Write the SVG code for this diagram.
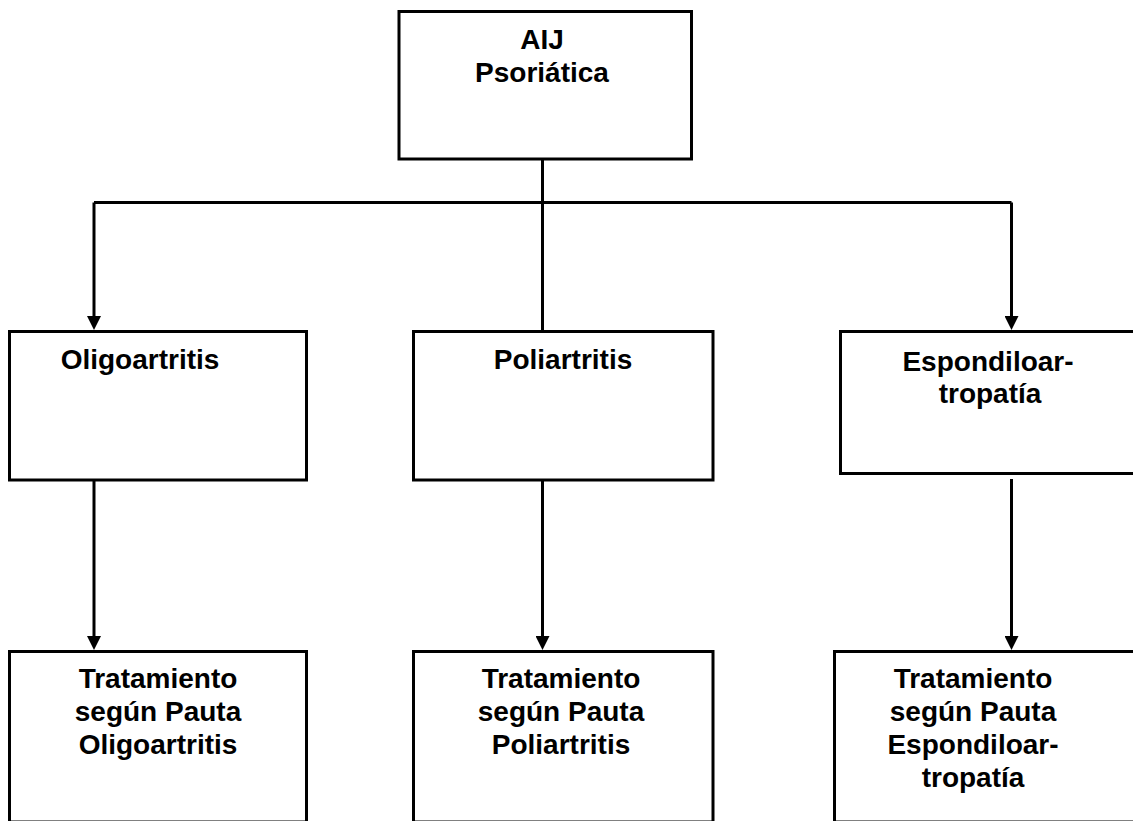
<svg xmlns="http://www.w3.org/2000/svg" width="1133" height="821" viewBox="0 0 1133 821">
<style>
.box{fill:#fff;stroke:#000;stroke-width:3}
.lbl{font-family:"Liberation Sans",Arial,sans-serif;font-weight:bold;font-size:28px;fill:#000;text-anchor:middle}
.con{fill:none;stroke:#000;stroke-width:3}
</style>
<defs>
<marker id="arr" markerUnits="userSpaceOnUse" viewBox="0 0 14 14" markerWidth="14" markerHeight="14" refX="6" refY="7" orient="auto">
<path d="M0,0 L14,7 L0,14 z" fill="#000"/>
</marker>
</defs>
<rect width="1133" height="821" fill="#fff"/>
<g id="connectors">
<path class="con" d="M542.5,159 V331.5"/>
<path class="con" d="M94,202.5 H1011.5"/>
<path class="con" d="M94,202.5 V322" marker-end="url(#arr)"/>
<path class="con" d="M1011.5,202.5 V322" marker-end="url(#arr)"/>
<path class="con" d="M94,480 V642" marker-end="url(#arr)"/>
<path class="con" d="M542.5,480 V642" marker-end="url(#arr)"/>
<path class="con" d="M1011.5,479 V642" marker-end="url(#arr)"/>
</g>
<g id="n-aij">
<rect class="box" x="399" y="11.5" width="292.5" height="147.5"/>
<text class="lbl" x="542" y="48.5">AIJ</text>
<text class="lbl" x="542" y="81.5">Psoriática</text>
</g>
<g id="n-oligo">
<rect class="box" x="9.5" y="331.5" width="297" height="148.5"/>
<text class="lbl" x="140" y="369">Oligoartritis</text>
</g>
<g id="n-poli">
<rect class="box" x="413.5" y="331.5" width="299.5" height="148.5"/>
<text class="lbl" x="563" y="369">Poliartritis</text>
</g>
<g id="n-espond">
<rect class="box" x="840.5" y="331.5" width="300" height="142"/>
<text class="lbl" x="988" y="370.5">Espondiloar-</text>
<text class="lbl" x="990" y="403">tropatía</text>
</g>
<g id="n-tr-oligo">
<rect class="box" x="9.5" y="651.5" width="297" height="170.5"/>
<text class="lbl" x="158" y="688">Tratamiento</text>
<text class="lbl" x="158" y="721">según Pauta</text>
<text class="lbl" x="158" y="754">Oligoartritis</text>
</g>
<g id="n-tr-poli">
<rect class="box" x="413.5" y="651.5" width="299.5" height="170.5"/>
<text class="lbl" x="561" y="688">Tratamiento</text>
<text class="lbl" x="561" y="721">según Pauta</text>
<text class="lbl" x="561" y="754">Poliartritis</text>
</g>
<g id="n-tr-espond">
<rect class="box" x="834.5" y="651.5" width="306" height="170.5"/>
<text class="lbl" x="973" y="688">Tratamiento</text>
<text class="lbl" x="973" y="721">según Pauta</text>
<text class="lbl" x="973" y="754">Espondiloar-</text>
<text class="lbl" x="973" y="786.5">tropatía</text>
</g>
</svg>
